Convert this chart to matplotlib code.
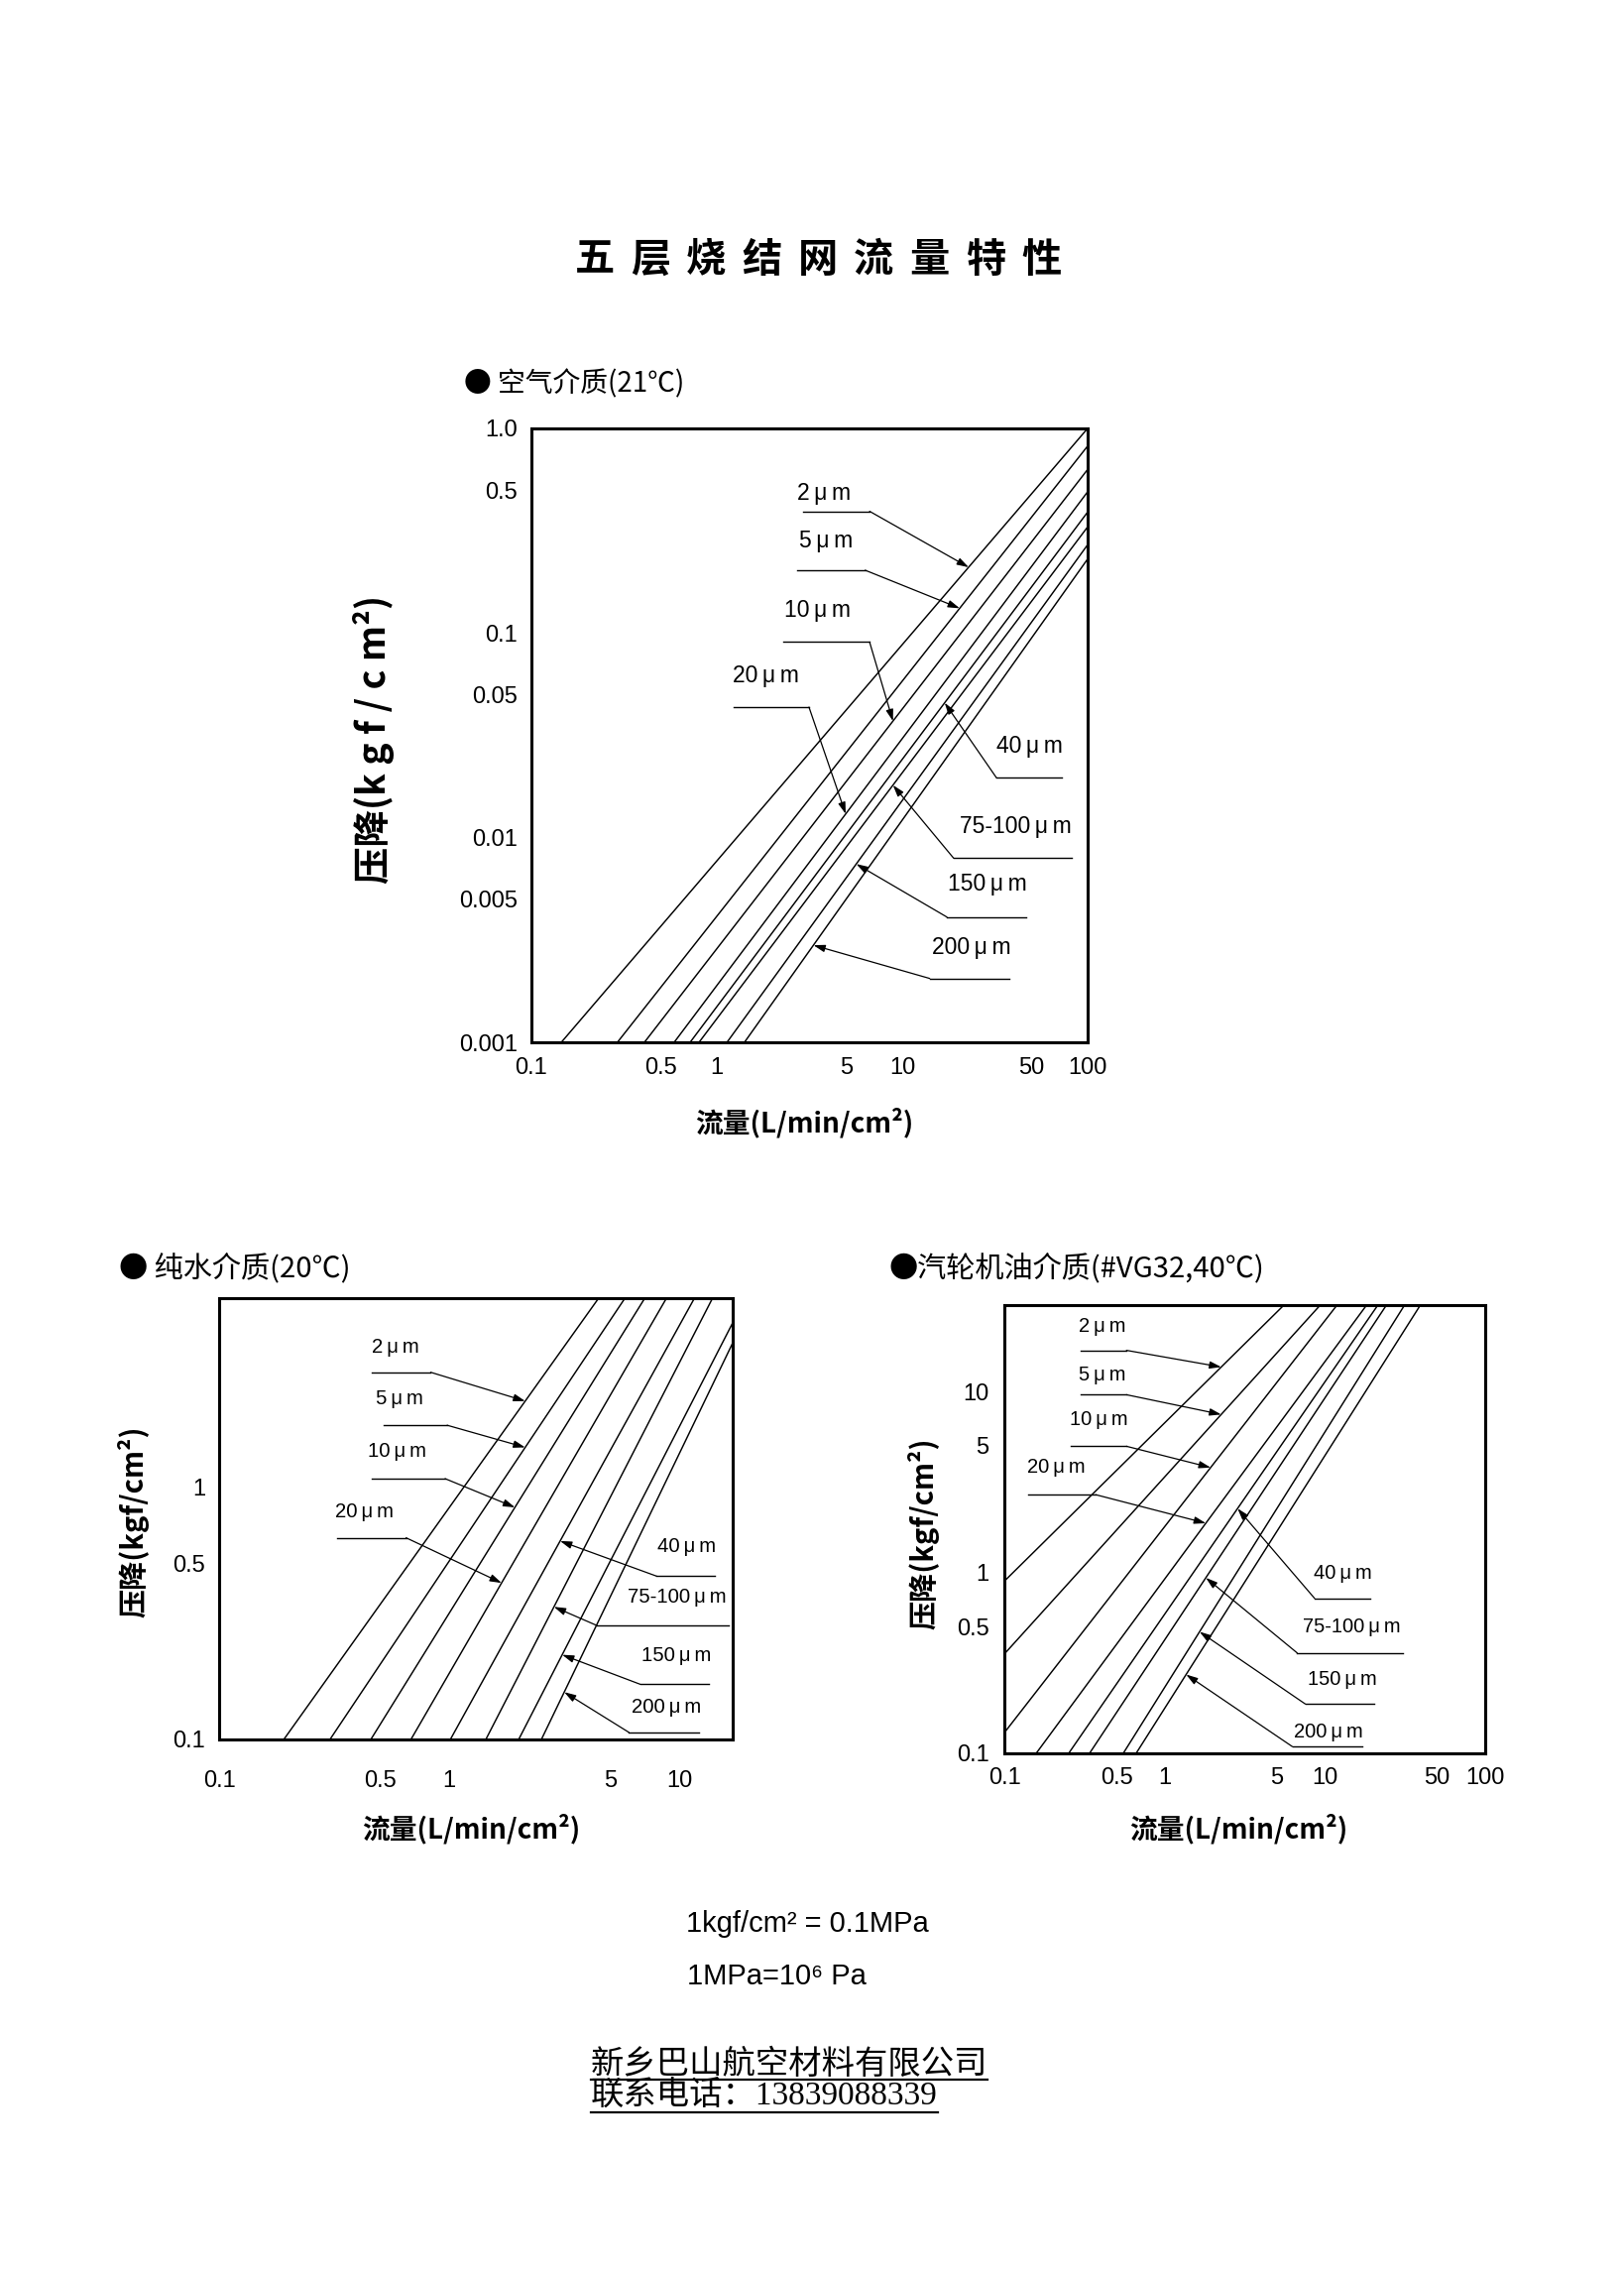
import numpy as np
import matplotlib
matplotlib.use("Agg")
import matplotlib.pyplot as plt
from matplotlib.lines import Line2D

CJK = ['Noto Sans CJK SC', 'DejaVu Sans']
LAT = ['Liberation Sans', 'DejaVu Sans']
SERIF = ['Liberation Serif', 'Noto Sans CJK SC', 'DejaVu Serif']
plt.rcParams['font.family'] = LAT

# ---------------- data ----------------
sizes = ["2\u2009μ\u2009m", "5\u2009μ\u2009m", "10\u2009μ\u2009m", "20\u2009μ\u2009m",
         "40\u2009μ\u2009m", "75-100\u2009μ\u2009m", "150\u2009μ\u2009m", "200\u2009μ\u2009m"]

# air (21 C)
air_xticks = [0.1, 0.5, 1, 5, 10, 50, 100]
air_xticklabels = ["0.1", "0.5", "1", "5", "10", "50", "100"]
air_yticks = [1.0, 0.5, 0.1, 0.05, 0.01, 0.005, 0.001]
air_yticklabels = ["1.0", "0.5", "0.1", "0.05", "0.01", "0.005", "0.001"]
air_flow_start = [0.145, 0.291, 0.407, 0.589, 0.718, 0.802, 1.135, 1.41]
air_dp_start = [0.001, 0.001, 0.001, 0.001, 0.001, 0.001, 0.001, 0.001]
air_flow_end = [100, 100, 100, 100, 100, 100, 100, 100]
air_dp_end = [1.0, 0.82, 0.63, 0.49, 0.39, 0.33, 0.27, 0.23]

# pure water (20 C)
water_xticks = [0.1, 0.5, 1, 5, 10]
water_xticklabels = ["0.1", "0.5", "1", "5", "10"]
water_yticks = [1, 0.5, 0.1]
water_yticklabels = ["1", "0.5", "0.1"]
water_flow_start = [0.191, 0.303, 0.456, 0.681, 1.01, 1.44, 2.0, 2.51]
water_dp_start = [0.1, 0.1, 0.1, 0.1, 0.1, 0.1, 0.1, 0.1]
water_flow_end = [4.45, 5.79, 7.06, 8.77, 11.6, 13.9, 17.0, 17.0]
water_dp_end = [5.6, 5.6, 5.6, 5.6, 5.6, 5.6, 4.47, 3.72]

# turbine oil (#VG32, 40 C)
oil_xticks = [0.1, 0.5, 1, 5, 10, 50, 100]
oil_xticklabels = ["0.1", "0.5", "1", "5", "10", "50", "100"]
oil_yticks = [10, 5, 1, 0.5, 0.1]
oil_yticklabels = ["10", "5", "1", "0.5", "0.1"]
oil_flow_start = [0.1, 0.1, 0.1, 0.158, 0.252, 0.340, 0.552, 0.664]
oil_dp_start = [0.894, 0.354, 0.130, 0.1, 0.1, 0.1, 0.1, 0.1]
oil_flow_end = [5.55, 9.35, 11.9, 18.2, 21.4, 24.2, 31.4, 39.4]
oil_dp_end = [30, 30, 30, 30, 30, 30, 30, 30]

# ---------------- layout (label placement, axes fractions) ----------------
# (text x, text y, underline x0, underline x1, underline y, leader side, arrow tip x fraction)
AIR_ANN = [(.526, .894, .488, .608, .865, 'r', .786),
           (.529, .816, .478, .600, .769, 'r', .770),
           (.515, .704, .453, .608, .652, 'r', .650),
           (.422, .597, .364, .499, .546, 'r', .565),
           (.896, .482, .836, .954, .431, 'l', .743),
           (.871, .351, .759, .971, .300, 'l', .650),
           (.820, .257, .747, .889, .204, 'l', .584),
           (.792, .155, .716, .859, .104, 'l', .507)]
WATER_ANN = [(.344, .888, .298, .412, .832, 'r', .596),
             (.352, .771, .320, .444, .712, 'r', .596),
             (.346, .653, .298, .440, .591, 'r', .576),
             (.282, .516, .230, .364, .457, 'r', .550),
             (.910, .436, .852, .966, .370, 'l', .664),
             (.892, .322, .736, .992, .258, 'l', .652),
             (.890, .191, .820, .954, .125, 'l', .668),
             (.870, .072, .798, .934, .016, 'l', .672)]
OIL_ANN = [(.203, .952, .158, .254, .899, 'r', .451),
           (.203, .844, .158, .254, .800, 'r', .451),
           (.197, .744, .139, .254, .685, 'r', .429),
           (.107, .638, .049, .190, .577, 'r', .419),
           (.703, .402, .645, .761, .346, 'l', .485),
           (.722, .283, .609, .829, .224, 'l', .419),
           (.703, .164, .626, .770, .110, 'l', .406),
           (.673, .047, .599, .744, .015, 'l', .378)]

FW, FH = 1638, 2291
fig = plt.figure(figsize=(FW / 100, FH / 100), dpi=100)
fig.patch.set_facecolor('white')


def px_rect(x0, y0, x1, y1):
    return [x0 / FW, 1 - y1 / FH, (x1 - x0) / FW, (y1 - y0) / FH]


def fx(x):
    return x / FW


def fy(y):
    return 1 - y / FH


def make_axes(rect, xlim, ylim, xt, xtl, yt, ytl, xpad, ypad):
    ax = fig.add_axes(rect)
    ax.set_xscale('log')
    ax.set_yscale('log')
    ax.set_xlim(*xlim)
    ax.set_ylim(*ylim)
    ax.minorticks_off()
    ax.set_xticks(xt, labels=xtl)
    ax.set_yticks(yt, labels=ytl)
    ax.minorticks_off()
    ax.tick_params(length=0, labelsize=17)
    ax.tick_params(axis='x', pad=xpad)
    ax.tick_params(axis='y', pad=ypad)
    for s in ax.spines.values():
        s.set_linewidth(2.2)
    return ax


def draw_curves(ax, xs0, ys0, xs1, ys1):
    for a, b, c, d in zip(xs0, ys0, xs1, ys1):
        ax.plot([a, c], [b, d], color='black', lw=1.05)


def draw_labels(ax, ann, xs0, ys0, xs1, ys1, fs):
    xlo, xhi = np.log10(ax.get_xlim())
    for lab, (tx, ty, u0, u1, uy, side, tipf), a, b, c, d in zip(sizes, ann, xs0, ys0, xs1, ys1):
        ax.text(tx, ty, lab, transform=ax.transAxes, ha='center', va='center', fontsize=fs)
        ax.plot([u0, u1], [uy, uy], transform=ax.transAxes, color='black', lw=1.0)
        ex = u1 if side == 'r' else u0
        lx = xlo + tipf * (xhi - xlo)
        ly = np.interp(lx, np.log10([a, c]), np.log10([b, d]))
        ax.annotate('', xy=(10 ** lx, 10 ** ly), xycoords='data',
                    xytext=(ex, uy), textcoords='axes fraction',
                    arrowprops=dict(arrowstyle='-|>,head_length=0.7,head_width=0.22',
                                    color='black', lw=0.9, mutation_scale=10,
                                    shrinkA=0, shrinkB=0))


# title
title = "五层烧结网流量特性"
for i, ch in enumerate(title):
    fig.text(fx(825 + (i - 4) * 56.3), fy(262), ch, ha='center', va='center',
             fontsize=29, fontweight='bold', family=CJK)

# ---------- air chart ----------
ax1 = make_axes(px_rect(536, 432, 1097, 1051), (0.1, 100), (0.001, 1.0),
                air_xticks, air_xticklabels, air_yticks, air_yticklabels, 11, 10)
draw_curves(ax1, air_flow_start, air_dp_start, air_flow_end, air_dp_end)
draw_labels(ax1, AIR_ANN, air_flow_start, air_dp_start, air_flow_end, air_dp_end, 16.5)
fig.text(fx(468), fy(387), "● 空气介质(21℃)", ha='left', va='center', fontsize=20, family=CJK)
fig.text(fx(377), fy(745), "压降(k g f / c m²)", ha='center', va='center', rotation=90,
         fontsize=27, fontweight='bold', family=CJK)
fig.text(fx(811), fy(1132), "流量(L/min/cm²)", ha='center', va='center', fontsize=20,
         fontweight='bold', family=CJK)

# ---------- water chart ----------
ax2 = make_axes(px_rect(221, 1309, 739, 1754), (0.1, 17), (0.1, 5.6),
                water_xticks, water_xticklabels, water_yticks, water_yticklabels, 22, 10)
draw_curves(ax2, water_flow_start, water_dp_start, water_flow_end, water_dp_end)
draw_labels(ax2, WATER_ANN, water_flow_start, water_dp_start, water_flow_end, water_dp_end, 14.6)
fig.text(fx(120), fy(1279), "● 纯水介质(20℃)", ha='left', va='center', fontsize=21, family=CJK)
fig.text(fx(134), fy(1534), "压降(kgf/cm²)", ha='center', va='center', rotation=90,
         fontsize=21, fontweight='bold', family=CJK)
fig.text(fx(475), fy(1844), "流量(L/min/cm²)", ha='center', va='center', fontsize=20,
         fontweight='bold', family=CJK)

# ---------- oil chart ----------
ax3 = make_axes(px_rect(1013, 1316, 1498, 1768), (0.1, 100), (0.1, 30),
                oil_xticks, oil_xticklabels, oil_yticks, oil_yticklabels, 10, 11)
draw_curves(ax3, oil_flow_start, oil_dp_start, oil_flow_end, oil_dp_end)
draw_labels(ax3, OIL_ANN, oil_flow_start, oil_dp_start, oil_flow_end, oil_dp_end, 14.5)
fig.text(fx(896), fy(1279), "●汽轮机油介质(#VG32,40℃)", ha='left', va='center', fontsize=21, family=CJK)
fig.text(fx(931), fy(1546), "压降(kgf/cm²)", ha='center', va='center', rotation=90,
         fontsize=21, fontweight='bold', family=CJK)
fig.text(fx(1249), fy(1844), "流量(L/min/cm²)", ha='center', va='center', fontsize=20,
         fontweight='bold', family=CJK)

# ---------- notes ----------
fig.text(fx(692), fy(1940), "1kgf/cm² = 0.1MPa", ha='left', va='center', fontsize=21, family=LAT)
fig.text(fx(693), fy(1993), "1MPa=10⁶ Pa", ha='left', va='center', fontsize=21, family=LAT)

t1 = fig.text(fx(596), fy(2082), "新乡巴山航空材料有限公司", ha='left', va='center',
              fontsize=24, family=SERIF)
t2 = fig.text(fx(596), fy(2113), "联系电话：13839088339", ha='left', va='center',
              fontsize=24, family=SERIF)

fig.canvas.draw()
rend = fig.canvas.get_renderer()
for t, uy in ((t1, 2097), (t2, 2130)):
    bb = t.get_window_extent(renderer=rend)
    fig.add_artist(Line2D([bb.x0 / FW, bb.x1 / FW], [fy(uy), fy(uy)],
                          transform=fig.transFigure, color='black', lw=1.6))

fig.savefig("out.png", dpi=100, facecolor='white')
